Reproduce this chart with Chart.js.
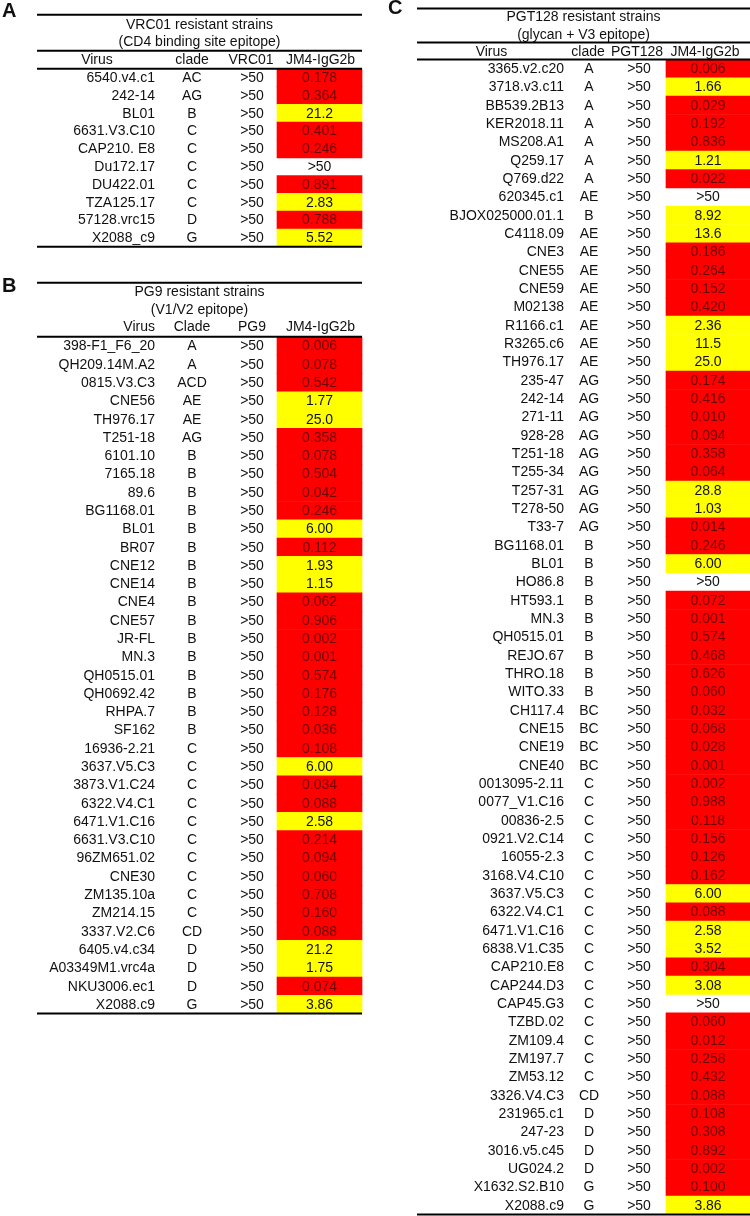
<!DOCTYPE html>
<html>
<head>
<meta charset="utf-8">
<script src="https://cdn.jsdelivr.net/npm/chart.js@4.4.1/dist/chart.umd.min.js"></script>
<style>
  html, body { margin: 0; padding: 0; background: #fff; }
  #wrap { position: relative; width: 750px; height: 1216px; overflow: hidden; }
  canvas { position: absolute; }
</style>
</head>
<body>
<div id="wrap">
  <canvas id="tblA" width="365" height="250" style="left:0px;top:0px"></canvas>
  <canvas id="tblB" width="365" height="765" style="left:0px;top:255px"></canvas>
  <canvas id="tblC" width="380" height="1216" style="left:370px;top:0px"></canvas>
</div>
<script>
// ---- Tabelle A: VRC01 resistente Stämme ----
const virusA = ['6540.v4.c1', '242-14', 'BL01', '6631.V3.C10', 'CAP210. E8', 'Du172.17', 'DU422.01', 'TZA125.17', '57128.vrc15', 'X2088_c9'];
const cladeA = ['AC', 'AG', 'B', 'C', 'C', 'C', 'C', 'C', 'D', 'G'];
const vrc01A = ['>50', '>50', '>50', '>50', '>50', '>50', '>50', '>50', '>50', '>50'];
const jm4A = [0.178, 0.364, 21.2, 0.401, 0.246, null, 0.891, 2.83, 0.788, 5.52];

// ---- Tabelle B: PG9 resistente Stämme ----
const virusB = ['398-F1_F6_20', 'QH209.14M.A2', '0815.V3.C3', 'CNE56', 'TH976.17', 'T251-18', '6101.10', '7165.18', '89.6', 'BG1168.01',
  'BL01', 'BR07', 'CNE12', 'CNE14', 'CNE4', 'CNE57', 'JR-FL', 'MN.3', 'QH0515.01', 'QH0692.42',
  'RHPA.7', 'SF162', '16936-2.21', '3637.V5.C3', '3873.V1.C24', '6322.V4.C1', '6471.V1.C16', '6631.V3.C10', '96ZM651.02', 'CNE30',
  'ZM135.10a', 'ZM214.15', '3337.V2.C6', '6405.v4.c34', 'A03349M1.vrc4a', 'NKU3006.ec1', 'X2088.c9'];
const cladeB = ['A', 'A', 'ACD', 'AE', 'AE', 'AG', 'B', 'B', 'B', 'B',
  'B', 'B', 'B', 'B', 'B', 'B', 'B', 'B', 'B', 'B',
  'B', 'B', 'C', 'C', 'C', 'C', 'C', 'C', 'C', 'C',
  'C', 'C', 'CD', 'D', 'D', 'D', 'G'];
const pg9B = ['>50', '>50', '>50', '>50', '>50', '>50', '>50', '>50', '>50', '>50',
  '>50', '>50', '>50', '>50', '>50', '>50', '>50', '>50', '>50', '>50',
  '>50', '>50', '>50', '>50', '>50', '>50', '>50', '>50', '>50', '>50',
  '>50', '>50', '>50', '>50', '>50', '>50', '>50'];
const jm4B = [0.006, 0.078, 0.542, 1.77, 25.0, 0.358, 0.078, 0.504, 0.042, 0.246,
  6.00, 0.112, 1.93, 1.15, 0.062, 0.906, 0.002, 0.001, 0.574, 0.176,
  0.128, 0.036, 0.108, 6.00, 0.034, 0.088, 2.58, 0.214, 0.094, 0.060,
  0.708, 0.160, 0.088, 21.2, 1.75, 0.074, 3.86];

// ---- Tabelle C: PGT128 resistente Stämme ----
const virusC = ['3365.v2.c20', '3718.v3.c11', 'BB539.2B13', 'KER2018.11', 'MS208.A1', 'Q259.17', 'Q769.d22', '620345.c1', 'BJOX025000.01.1', 'C4118.09',
  'CNE3', 'CNE55', 'CNE59', 'M02138', 'R1166.c1', 'R3265.c6', 'TH976.17', '235-47', '242-14', '271-11',
  '928-28', 'T251-18', 'T255-34', 'T257-31', 'T278-50', 'T33-7', 'BG1168.01', 'BL01', 'HO86.8', 'HT593.1',
  'MN.3', 'QH0515.01', 'REJO.67', 'THRO.18', 'WITO.33', 'CH117.4', 'CNE15', 'CNE19', 'CNE40', '0013095-2.11',
  '0077_V1.C16', '00836-2.5', '0921.V2.C14', '16055-2.3', '3168.V4.C10', '3637.V5.C3', '6322.V4.C1', '6471.V1.C16', '6838.V1.C35', 'CAP210.E8',
  'CAP244.D3', 'CAP45.G3', 'TZBD.02', 'ZM109.4', 'ZM197.7', 'ZM53.12', '3326.V4.C3', '231965.c1', '247-23', '3016.v5.c45',
  'UG024.2', 'X1632.S2.B10', 'X2088.c9'];
const cladeC = ['A', 'A', 'A', 'A', 'A', 'A', 'A', 'AE', 'B', 'AE',
  'AE', 'AE', 'AE', 'AE', 'AE', 'AE', 'AE', 'AG', 'AG', 'AG',
  'AG', 'AG', 'AG', 'AG', 'AG', 'AG', 'B', 'B', 'B', 'B',
  'B', 'B', 'B', 'B', 'B', 'BC', 'BC', 'BC', 'BC', 'C',
  'C', 'C', 'C', 'C', 'C', 'C', 'C', 'C', 'C', 'C',
  'C', 'C', 'C', 'C', 'C', 'C', 'CD', 'D', 'D', 'D',
  'D', 'G', 'G'];
const pgt128C = ['>50', '>50', '>50', '>50', '>50', '>50', '>50', '>50', '>50', '>50',
  '>50', '>50', '>50', '>50', '>50', '>50', '>50', '>50', '>50', '>50',
  '>50', '>50', '>50', '>50', '>50', '>50', '>50', '>50', '>50', '>50',
  '>50', '>50', '>50', '>50', '>50', '>50', '>50', '>50', '>50', '>50',
  '>50', '>50', '>50', '>50', '>50', '>50', '>50', '>50', '>50', '>50',
  '>50', '>50', '>50', '>50', '>50', '>50', '>50', '>50', '>50', '>50',
  '>50', '>50', '>50'];
const jm4C = [0.006, 1.66, 0.029, 0.192, 0.836, 1.21, 0.022, null, 8.92, 13.6,
  0.186, 0.264, 0.152, 0.420, 2.36, 11.5, 25.0, 0.174, 0.416, 0.010,
  0.094, 0.358, 0.064, 28.8, 1.03, 0.014, 0.246, 6.00, null, 0.072,
  0.001, 0.574, 0.468, 0.626, 0.060, 0.032, 0.068, 0.028, 0.001, 0.002,
  0.988, 0.118, 0.156, 0.126, 0.162, 6.00, 0.088, 2.58, 3.52, 0.304,
  3.08, null, 0.060, 0.012, 0.258, 0.432, 0.088, 0.108, 0.308, 0.892,
  0.002, 0.100, 3.86];

const RED = '#ff0000', YELLOW = '#ffff00';
const FONT = '"Liberation Sans", Arial, Helvetica, sans-serif';

// Anzeige: <1 mit 3 Nachkommastellen, sonst 3 signifikante Stellen
function fmt(v) {
  if (v === null) return '>50';
  return v < 1 ? v.toFixed(3) : v.toPrecision(3);
}

// Plugin: Texte und Linien der Tabelle
function tablePlugin(cfg) {
  return {
    id: 'tableText',
    afterDatasetsDraw(chart) {
      const { ctx, chartArea, scales: { x, y } } = chart;
      const top = chartArea.top;
      const L = x.getPixelForValue(cfg.lineLeft), R = x.getPixelForValue(cfg.lineRight);
      ctx.save();
      ctx.fillStyle = '#111';
      ctx.textBaseline = 'middle';

      // Buchstabe
      ctx.font = 'bold 20px ' + FONT;
      ctx.textAlign = 'left';
      ctx.fillText(cfg.letter, x.getPixelForValue(cfg.letterX), top + cfg.letterDy);

      // Titel
      ctx.font = '14px ' + FONT;
      ctx.textAlign = 'center';
      ctx.fillText(cfg.title1, (L + R) / 2, top + cfg.title1Dy);
      ctx.fillText(cfg.title2, (L + R) / 2, top + cfg.title2Dy);

      // Kopfzeile
      const hy = top + cfg.headDy;
      ctx.textAlign = cfg.virusHeadAlign;
      ctx.fillText('Virus', x.getPixelForValue(cfg.virusHeadX), hy);
      ctx.textAlign = 'center';
      ctx.fillText(cfg.cladeHead, x.getPixelForValue(cfg.cladeHeadX), hy);
      ctx.fillText(cfg.abHead, x.getPixelForValue(cfg.abHeadX), hy);
      ctx.fillText('JM4-IgG2b', x.getPixelForValue(cfg.jmHeadX), hy);

      // Zeilen
      cfg.virus.forEach((name, i) => {
        const py = y.getPixelForValue(i) + 0.5;
        ctx.fillStyle = '#111';
        ctx.textAlign = 'right';
        ctx.fillText(name, x.getPixelForValue(cfg.virusRight), py);
        ctx.textAlign = 'center';
        ctx.fillText(cfg.clade[i], x.getPixelForValue(cfg.cladeX), py);
        ctx.fillText(cfg.ab[i], x.getPixelForValue(cfg.abX), py);
        const v = cfg.jm4[i];
        ctx.fillStyle = (v !== null && v < 1) ? '#700000' : '#111';
        ctx.fillText(fmt(v), x.getPixelForValue(cfg.jmX), py);
      });

      // Linien
      ctx.strokeStyle = '#000';
      ctx.lineWidth = 2;
      const hline = yy => { ctx.beginPath(); ctx.moveTo(L, yy); ctx.lineTo(R, yy); ctx.stroke(); };
      hline(top + cfg.topLineDy);
      if (cfg.titleLineDy !== null) hline(top + cfg.titleLineDy);
      hline(top);
      hline(chartArea.bottom);
      ctx.restore();
    }
  };
}

function makeTable(id, cfg) {
  new Chart(document.getElementById(id), {
    type: 'bar',
    data: {
      labels: cfg.virus,
      datasets: [{
        data: cfg.jm4.map(v => v === null ? null : [cfg.cellLeft, cfg.cellRight]),
        backgroundColor: cfg.jm4.map(v => v === null ? 'rgba(0,0,0,0)' : (v < 1 ? RED : YELLOW)),
        borderWidth: 0,
        barPercentage: 1,
        categoryPercentage: 1
      }]
    },
    options: {
      indexAxis: 'y',
      responsive: false,
      animation: false,
      events: [],
      layout: { padding: { top: cfg.padTop, bottom: cfg.padBottom, left: 0, right: 0 } },
      plugins: { legend: { display: false }, tooltip: { enabled: false } },
      scales: {
        x: { type: 'linear', display: false, min: cfg.xMin, max: cfg.xMax },
        y: { type: 'category', display: false, offset: true }
      }
    },
    plugins: [tablePlugin(cfg)]
  });
}

makeTable('tblA', {
  virus: virusA, clade: cladeA, ab: vrc01A, jm4: jm4A,
  letter: 'A', title1: 'VRC01 resistant strains', title2: '(CD4 binding site epitope)',
  cladeHead: 'clade', abHead: 'VRC01',
  xMin: 0, xMax: 365, padTop: 68.8, padBottom: 3.2,
  lineLeft: 37, lineRight: 362, cellLeft: 277, cellRight: 362,
  virusRight: 155, cladeX: 192, abX: 252, jmX: 319.5,
  virusHeadAlign: 'center', virusHeadX: 97, cladeHeadX: 192, abHeadX: 251, jmHeadX: 320.5,
  letterX: 2, letterDy: -57, title1Dy: -44, title2Dy: -27, headDy: -9,
  topLineDy: -54, titleLineDy: -18
});

makeTable('tblB', {
  virus: virusB, clade: cladeB, ab: pg9B, jm4: jm4B,
  letter: 'B', title1: 'PG9 resistant strains', title2: '(V1/V2 epitope)',
  cladeHead: 'Clade', abHead: 'PG9',
  xMin: 0, xMax: 365, padTop: 81.85, padBottom: 6.4,
  lineLeft: 37, lineRight: 362, cellLeft: 277, cellRight: 362,
  virusRight: 155, cladeX: 192, abX: 252, jmX: 319.5,
  virusHeadAlign: 'right', virusHeadX: 155, cladeHeadX: 192, abHeadX: 252, jmHeadX: 320.5,
  letterX: 2, letterDy: -50, title1Dy: -45, title2Dy: -27, headDy: -9.5,
  topLineDy: -54, titleLineDy: null
});

makeTable('tblC', {
  virus: virusC, clade: cladeC, ab: pgt128C, jm4: jm4C,
  letter: 'C', title1: 'PGT128 resistant strains', title2: '(glycan + V3 epitope)',
  cladeHead: 'clade', abHead: 'PGT128',
  xMin: 370, xMax: 750, padTop: 59.5, padBottom: 1.5,
  lineLeft: 417, lineRight: 750, cellLeft: 666, cellRight: 750,
  virusRight: 564, cladeX: 589, abX: 639, jmX: 708,
  virusHeadAlign: 'center', virusHeadX: 491.5, cladeHeadX: 588, abHeadX: 637, jmHeadX: 705,
  letterX: 388, letterDy: -51, title1Dy: -42.5, title2Dy: -24.5, headDy: -7.5,
  topLineDy: -51, titleLineDy: -17
});
</script>
</body>
</html>
